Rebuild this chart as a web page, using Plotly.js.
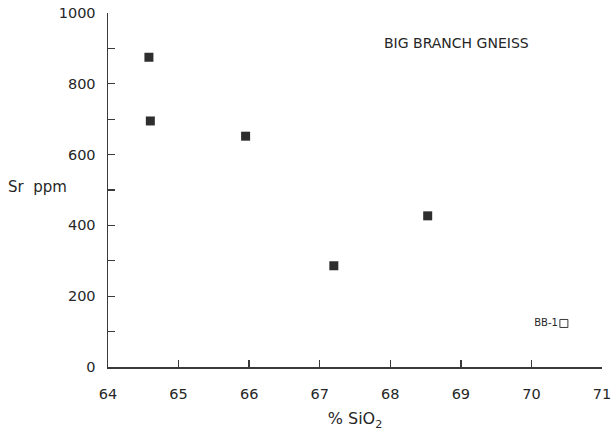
<!DOCTYPE html>
<html>
<head>
<meta charset="utf-8">
<script src="https://cdn.plot.ly/plotly-3.0.1.min.js"></script>
<style>html,body{margin:0;padding:0;background:#fff}#chart{width:612px;height:438px}</style>
</head>
<body>
<div id="chart"></div>
<script>
// Big Branch Gneiss samples
const sio2 = [64.58, 64.60, 65.95, 67.20, 68.53];
const sr = [875, 695, 652, 286, 427];
// Outlier sample
const outlierSio2 = [70.46];
const outlierSr = [123];
const outlierLabels = ["BB-1"];
const xTicks = [64, 65, 66, 67, 68, 69, 70, 71];
const yTicks = [0, 200, 400, 600, 800, 1000];

const ink = '#262626';
const fontFam = 'DejaVu Sans, Arial, sans-serif';

const traces = [
  {
    x: sio2, y: sr, type: 'scatter', mode: 'markers',
    marker: {symbol: 'square', size: 9, color: '#2e2e2e'},
    hoverinfo: 'x+y'
  },
  {
    x: outlierSio2, y: outlierSr, type: 'scatter', mode: 'markers+text',
    text: outlierLabels, textposition: 'middle left',
    textfont: {family: fontFam, size: 10, color: ink},
    marker: {symbol: 'square-open', size: 8, color: '#3a3a3a', line: {width: 1}},
    hoverinfo: 'x+y+text'
  }
];

const layout = {
  width: 612, height: 438,
  margin: {l: 108, r: 10, t: 13, b: 71},
  paper_bgcolor: '#ffffff', plot_bgcolor: '#ffffff',
  showlegend: false,
  font: {family: fontFam, size: 14, color: ink},
  xaxis: {
    range: [64, 71], tickvals: xTicks, ticktext: xTicks.map(String),
    showgrid: false, zeroline: false,
    showline: true, linecolor: '#3a3a3a', linewidth: 1.5,
    ticks: 'inside', ticklen: 7, tickwidth: 1.3, tickcolor: '#3a3a3a',
    ticklabelstandoff: 13,
    ticklabeloverflow: 'allow',
    tickfont: {family: fontFam, size: 14.5, color: ink},
    title: {text: '% SiO<sub>2</sub>', standoff: 12, font: {family: fontFam, size: 16, color: ink}}
  },
  yaxis: {
    range: [0, 1000], tickvals: yTicks, ticktext: yTicks.map(String),
    showgrid: false, zeroline: false,
    showline: true, linecolor: '#3a3a3a', linewidth: 1.5,
    ticks: 'inside', ticklen: 7, tickwidth: 1.3, tickcolor: '#3a3a3a',
    ticklabelstandoff: 8,
    ticklabeloverflow: 'allow',
    minor: {dtick: 100, ticks: 'inside', ticklen: 7, tickwidth: 1.3, tickcolor: '#3a3a3a', showgrid: false},
    tickfont: {family: fontFam, size: 14.5, color: ink}
  },
  annotations: [
    {text: 'BIG BRANCH GNEISS', xref: 'paper', yref: 'paper', x: 0.706, y: 0.915,
     showarrow: false, xanchor: 'center', yanchor: 'middle',
     font: {family: fontFam, size: 14, color: ink}},
    {text: 'Sr  ppm', xref: 'paper', yref: 'paper', x: -0.142, y: 0.508,
     showarrow: false, xanchor: 'center', yanchor: 'middle',
     font: {family: fontFam, size: 15, color: ink}}
  ]
};

Plotly.newPlot('chart', traces, layout, {displayModeBar: false, staticPlot: true});
</script>
</body>
</html>
